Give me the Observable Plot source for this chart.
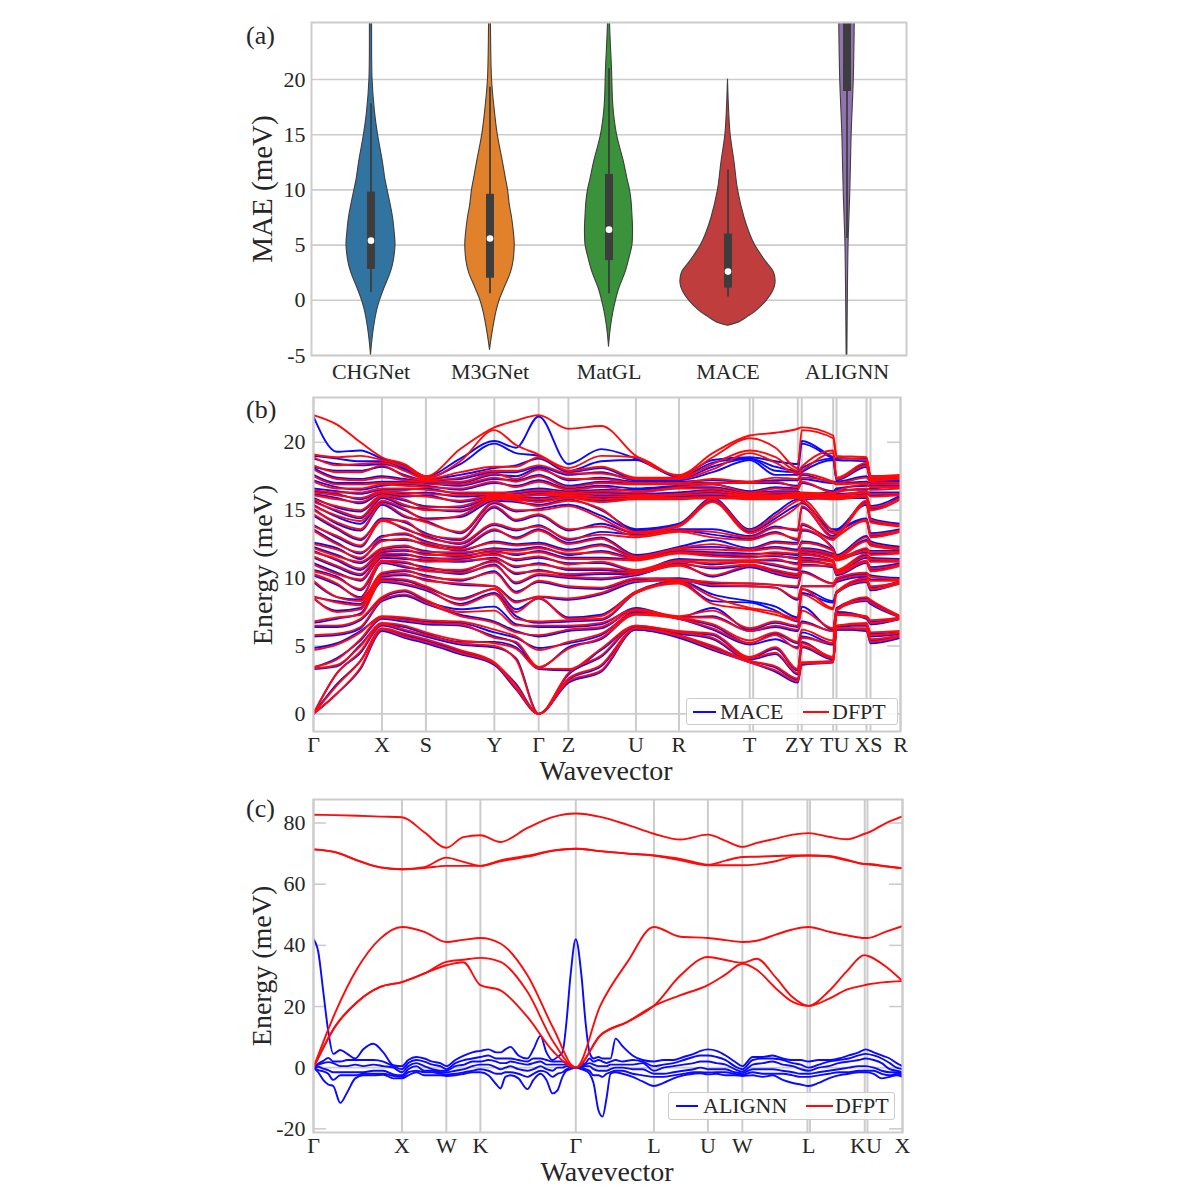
<!DOCTYPE html>
<html><head><meta charset="utf-8">
<script src="https://cdn.jsdelivr.net/npm/d3@7"></script>
<script src="https://cdn.jsdelivr.net/npm/@observablehq/plot@0.6"></script>
<style>
body{margin:0;background:#fff;}
#root{position:relative;width:1200px;height:1200px;background:#fff;font-family:"Liberation Serif","DejaVu Serif",serif;color:#262626;overflow:hidden;}
#root svg{position:absolute;left:0;}
.t{position:absolute;transform:translate(-50%,-50%);white-space:nowrap;line-height:1;}
.yl{position:absolute;transform:translate(-50%,-50%) rotate(-90deg);white-space:nowrap;line-height:1;}
.pl{position:absolute;white-space:nowrap;line-height:1;font-size:26px;}
.leg{position:absolute;border:1px solid #cccccc;border-radius:3px;background:rgba(255,255,255,0.85);box-sizing:border-box;}
.leg span{position:absolute;top:50%;transform:translateY(-50%);font-size:22px;line-height:1;}
.leg i{position:absolute;top:50%;height:2px;margin-top:-1px;}
</style></head>
<body><div id="root"></div>
<script>
// ---------------- Panel (a): violin data ----------------
const models = ["CHGNet", "M3GNet", "MatGL", "MACE", "ALIGNN"];
const modelColors = ["#3274a1", "#e1812c", "#3a923a", "#c03d3e", "#9372b2"];
const maeTicks = [-5, 0, 5, 10, 15, 20];
const chgnetVY = [-5, -4, -2.5, -1, 0, 1, 2.5, 3.5, 5, 6, 7.5, 8.5, 10, 11, 12.5, 15, 17, 20, 25, 28];
const chgnetVW = [0, 0.008, 0.025, 0.05, 0.076, 0.11, 0.166, 0.19, 0.206, 0.2, 0.185, 0.168, 0.139, 0.12, 0.1, 0.059, 0.034, 0.013, 0.009, 0.008];
const m3gnetVY = [-4.5, -3.5, -2.5, -1, 0, 1, 2.5, 3.5, 5, 6, 7.5, 8.5, 10, 11, 12.5, 15, 17.5, 20, 25, 28];
const m3gnetVW = [0, 0.013, 0.028, 0.055, 0.081, 0.118, 0.176, 0.197, 0.208, 0.202, 0.185, 0.168, 0.151, 0.134, 0.109, 0.065, 0.037, 0.017, 0.008, 0.007];
const matglVY = [-4.2, -3, -2, -1, 0, 1, 2.5, 4, 5, 6.5, 7.5, 9, 10, 11, 12.5, 15, 17.5, 21, 25, 28];
const matglVW = [0, 0.01, 0.022, 0.038, 0.059, 0.084, 0.138, 0.176, 0.197, 0.202, 0.198, 0.189, 0.176, 0.155, 0.126, 0.067, 0.037, 0.025, 0.009, 0.008];
const maceVY = [-2.3, -2, -1.5, -1, 0, 0.8, 1.5, 2.5, 3.5, 5, 6, 7.5, 10, 12.5, 15, 17.5, 20];
const maceVW = [0, 0.092, 0.168, 0.235, 0.328, 0.378, 0.399, 0.387, 0.319, 0.227, 0.185, 0.138, 0.084, 0.055, 0.022, 0.008, 0];
const alignnVY = [-5, 0, 5, 10, 15, 20, 25, 28];
const alignnVW = [0.003, 0.007, 0.013, 0.028, 0.039, 0.057, 0.065, 0.068];
const boxQ1 = [2.8, 2.0, 3.6, 1.1, 18.9];
const boxQ3 = [9.8, 9.6, 11.4, 6.0, 32];
const boxMedian = [5.4, 5.6, 6.4, 2.6, 28];
const whiskLo = [0.7, 0.6, 0.6, 0.3, 5.6];
const whiskHi = [17.8, 19.3, 21.0, 11.8, 40];

// ---------------- Panel (b): MACE vs DFPT band columns (meV) ----------------
const bTickPos = [0, 0.1166, 0.1915, 0.3081, 0.3836, 0.4343, 0.5493, 0.6226, 0.7432, 0.8284, 0.888, 0.9455, 1];
const bTickLab = ["Γ", "X", "S", "Y", "Γ", "Z", "U", "R", "T", "ZY", "TU", "XS", "R"];
const bLines = [0, 0.1166, 0.1915, 0.3081, 0.3836, 0.4343, 0.5493, 0.6226, 0.7432, 0.749, 0.825, 0.8318, 0.8853, 0.891, 0.9421, 0.9489, 1];
const bYTicks = [0, 5, 10, 15, 20];
const bPathK = [0, 0.04, 0.08, 0.1166, 0.155, 0.1915, 0.25, 0.3081, 0.345, 0.3836, 0.4343, 0.49, 0.5493, 0.6226, 0.68, 0.7432, 0.787, 0.825, 0.8318, 0.8853, 0.891, 0.9421, 0.9489, 1];
const bPathPts = ["G", "A1", "A2", "X", "B1", "S", "C1", "Y", "D1", "G", "Z", "E1", "U", "R", "F1", "T", "H1", "Z", "Y", "T", "U", "X", "S", "R"];

const dfptG  = [0,0,0,3.35,3.45,4.7,5.8,6.5,6.8,8.55,8.65,9.8,10.3,10.5,11.0,11.6,11.9,12.2,12.5,13.5,13.8,14.7,15.0,15.3,15.6,15.8,16.1,16.3,16.5,17.1,17.5,18.0,18.3,18.9,19.1,22.0];
const dfptA1 = [1.5,2.1,3.0,3.6,4.0,5.1,5.9,6.5,7.1,7.5,8.2,8.6,9.6,10.0,10.3,10.9,11.4,11.6,12.1,12.5,13.1,13.7,14.1,14.6,15.0,15.3,15.8,16.1,16.3,16.6,16.9,17.3,17.8,18.3,18.9,21.3];
const dfptA2 = [3.4,3.9,4.6,5.0,5.5,6.0,6.4,7.0,7.3,7.7,8.0,8.3,8.5,9.2,9.9,10.3,10.7,11.2,11.5,11.9,12.4,12.9,13.6,14.2,14.5,15.0,15.6,15.9,16.3,16.6,16.9,17.2,17.8,18.4,19.0,20.0];
const dfptX  = [6.2,6.3,6.6,6.7,7.1,7.2,8.4,8.6,9.8,10.0,10.2,10.4,11.2,11.3,11.6,11.8,12.0,12.2,12.7,13.0,14.2,14.3,15.5,15.7,16.0,16.1,16.3,16.4,16.6,16.9,17.0,17.4,18.3,18.5,18.7,18.9];
const dfptB1 = [5.7,5.9,6.2,6.5,6.9,7.1,8.8,9.1,9.6,9.9,10.3,10.6,10.9,11.2,11.5,11.8,12.1,12.4,12.9,13.3,13.7,14.2,14.6,15.1,15.4,15.8,16.1,16.3,16.6,16.8,17.0,17.2,17.5,17.9,18.2,18.4];
const dfptS  = [5.3,5.5,5.8,6.0,6.7,6.9,8.2,8.4,9.2,9.4,9.8,10.1,10.5,10.7,11.2,11.4,11.7,11.9,12.4,12.6,13.0,13.2,14.1,14.3,15.0,15.2,16.0,16.2,16.5,16.7,16.9,17.1,17.2,17.3,17.4,17.5];
const dfptC1 = [4.5,4.7,5.2,5.4,6.6,6.8,7.2,7.5,8.0,8.4,9.6,9.9,10.4,10.6,11.3,11.5,11.7,11.9,12.1,12.3,12.6,12.9,13.4,14.6,15.0,15.3,15.7,16.1,16.3,16.6,16.9,17.1,17.4,17.8,18.6,19.5];
const dfptY  = [3.7,3.8,5.0,5.2,5.6,6.2,6.7,7.6,8.8,9.2,9.4,10.4,10.9,11.2,11.4,11.7,11.9,12.1,12.6,13.6,14.0,15.3,15.6,15.8,15.9,16.0,16.1,16.2,16.3,17.1,17.4,17.7,17.9,18.2,20.9,21.1];
const dfptD1 = [1.9,2.1,4.0,4.8,5.3,5.7,6.0,6.5,7.0,7.5,8.2,8.9,9.7,10.4,10.9,11.4,11.8,12.0,12.4,12.9,13.6,14.3,15.0,15.7,15.8,15.9,16.0,16.1,16.3,16.7,17.1,17.3,17.9,18.2,19.8,21.6];
const dfptZ  = [2.4,2.6,3.0,3.3,4.8,5.3,6.2,6.5,6.9,7.0,8.5,9.4,10.1,10.3,10.7,11.0,11.4,11.8,12.0,12.5,12.9,13.6,15.3,15.7,15.9,16.0,16.1,16.2,16.3,16.5,16.7,17.3,17.7,17.9,18.1,21.0];
const dfptE1 = [3.2,3.6,4.3,4.8,5.6,5.9,6.4,6.7,7.0,7.2,8.9,9.3,10.0,10.4,10.7,11.2,11.4,11.9,12.4,12.9,13.2,13.8,14.4,15.1,15.6,15.8,16.0,16.2,16.4,16.7,17.0,17.3,17.7,18.2,19.0,21.2];
const dfptU  = [6.3,6.3,6.5,6.5,7.3,7.4,7.6,7.7,8.9,9.0,9.8,10.0,10.3,10.4,10.5,10.6,11.3,11.4,11.5,11.6,13.0,13.1,13.3,13.4,15.8,15.9,16.0,16.1,16.3,16.4,16.9,17.0,17.3,17.4,18.9,19.0];
const dfptR  = [5.7,5.8,6.0,6.1,7.0,7.1,7.1,7.2,9.6,9.7,9.8,9.9,10.9,11.0,11.2,11.3,11.8,11.9,12.1,12.2,13.4,13.5,13.8,13.9,15.8,15.9,16.1,16.2,16.6,16.7,16.9,17.0,17.3,17.4,17.5,17.6];
const dfptF1 = [4.8,5.0,5.6,5.9,6.3,6.6,7.1,7.6,8.1,8.6,9.5,9.7,10.2,10.8,11.1,11.3,11.6,11.8,12.1,12.5,13.0,13.4,15.6,15.8,15.9,16.0,16.2,16.4,16.6,16.9,17.0,17.3,18.0,18.4,18.9,19.2];
const dfptT  = [3.8,3.9,4.1,4.2,5.2,5.4,6.1,6.3,7.7,7.8,9.4,9.6,10.9,11.0,11.2,11.3,11.5,11.7,12.0,12.1,12.8,13.0,13.3,13.5,15.8,15.9,16.0,16.1,16.2,16.3,17.0,17.1,19.2,19.4,20.3,20.5];
const dfptH1 = [3.2,3.5,4.5,4.9,5.8,6.0,6.5,6.8,7.3,7.5,9.3,9.5,10.4,10.6,11.0,11.4,11.7,11.9,12.2,12.6,13.3,13.7,14.2,14.6,15.8,15.9,16.0,16.1,16.3,16.6,17.1,17.4,18.5,18.9,19.6,20.7];

const maceG  = [0,0,0,3.3,3.4,4.85,5.7,6.4,6.7,8.5,8.6,9.7,10.2,10.6,11.1,11.5,12.0,12.3,12.6,13.6,13.9,14.6,15.1,15.4,15.7,15.9,16.2,16.4,16.6,17.2,17.6,18.1,18.2,18.8,19.0,21.9];
const maceA1 = [1.5,2.2,3.0,3.5,4.1,5.2,5.8,6.4,7.0,7.6,8.3,8.6,9.5,10.1,10.4,10.8,11.3,11.7,12.2,12.6,13.0,13.6,14.0,14.5,14.9,15.2,15.9,16.2,16.4,16.7,17.0,17.4,17.9,18.4,18.8,19.3];
const maceA2 = [3.3,3.9,4.5,5.1,5.4,6.1,6.3,6.9,7.4,7.8,8.1,8.4,8.6,9.1,9.8,10.2,10.6,11.1,11.4,11.8,12.3,12.8,13.5,14.0,14.4,14.9,15.5,15.8,16.2,16.5,17.0,17.3,17.9,18.3,18.6,19.4];
const maceX  = [6.1,6.2,6.5,6.6,7.0,7.1,8.3,8.5,9.7,9.9,10.1,10.3,11.1,11.2,11.5,11.7,11.9,12.1,12.8,13.1,14.3,14.4,15.4,15.6,15.9,16.0,16.2,16.3,16.5,16.8,17.1,17.5,18.2,18.4,18.6,18.8];
const maceB1 = [5.6,5.8,6.1,6.4,6.8,7.0,8.7,9.0,9.5,9.8,10.2,10.5,10.8,11.1,11.4,11.7,12.0,12.3,12.8,13.2,13.6,14.1,14.5,15.0,15.3,15.7,16.0,16.2,16.5,16.9,17.1,17.3,17.6,18.0,18.1,18.3];
const maceS  = [5.2,5.4,5.7,5.9,6.6,6.8,8.1,8.3,9.1,9.3,9.9,10.2,10.6,10.8,11.3,11.5,11.8,12.0,12.5,12.7,13.1,13.3,14.2,14.4,15.1,15.3,16.1,16.3,16.6,16.8,17.0,17.1,17.2,17.3,17.4,17.5];
const maceC1 = [4.4,4.6,5.1,5.3,6.5,6.7,7.3,7.7,8.1,8.5,9.5,9.8,10.3,10.5,11.2,11.4,11.6,11.8,12.0,12.2,12.5,12.8,13.3,14.5,14.9,15.2,15.6,16.0,16.2,16.5,16.8,17.0,17.3,17.6,18.4,18.8];
const maceY  = [3.6,3.7,4.9,5.3,5.7,6.0,6.8,7.9,8.9,9.2,9.4,10.5,11.0,11.3,11.5,11.8,12.0,12.2,12.7,13.5,13.9,15.2,15.5,15.7,15.8,15.9,16.0,16.1,16.2,17.0,17.3,17.6,17.8,18.1,19.9,20.1];
const maceD1 = [1.8,2.2,4.1,4.9,5.2,5.6,6.1,6.6,7.2,7.7,8.3,9.0,9.6,10.3,10.8,11.3,11.7,12.1,12.5,13.0,13.5,14.2,14.9,15.6,15.8,15.9,16.0,16.2,16.4,16.8,17.2,17.5,17.8,18.3,19.2,19.6];
const maceZ  = [2.3,2.5,2.9,3.2,4.9,5.2,6.1,6.4,6.8,7.1,8.4,9.3,10.0,10.2,10.6,11.1,11.5,11.7,12.1,12.6,12.8,13.5,15.4,15.8,16.0,16.1,16.2,16.3,16.4,16.6,16.8,17.2,17.6,17.8,17.9,18.4];
const maceE1 = [3.1,3.5,4.2,4.7,5.5,5.8,6.3,6.6,6.9,7.3,8.8,9.2,9.9,10.3,10.6,11.1,11.5,12.0,12.5,13.0,13.4,14.0,14.6,15.0,15.7,15.9,16.1,16.3,16.5,16.8,17.1,17.4,17.8,18.1,18.6,19.5];
const maceU  = [6.2,6.2,6.4,6.4,7.4,7.5,7.7,7.8,8.9,9.0,9.7,9.9,10.2,10.3,10.4,10.5,11.4,11.5,11.6,11.7,13.2,13.3,13.5,13.6,15.9,16.0,16.1,16.2,16.5,16.6,17.0,17.1,17.2,17.3,18.7,18.8];
const maceR  = [5.6,5.7,5.9,6.0,7.0,7.0,7.1,7.1,9.7,9.8,9.9,10.0,11.0,11.1,11.3,11.4,11.9,12.0,12.2,12.3,13.5,13.6,13.9,14.0,16.0,16.1,16.2,16.3,16.7,16.8,17.0,17.1,17.2,17.3,17.4,17.5];
const maceF1 = [4.7,4.9,5.5,5.8,6.2,6.5,7.2,7.8,8.3,8.8,9.4,9.6,10.1,10.7,11.0,11.3,11.7,11.9,12.3,12.8,13.2,13.6,15.7,15.9,16.0,16.1,16.3,16.5,16.7,16.9,17.0,17.2,17.8,18.2,18.5,18.7];
const maceT  = [3.8,3.9,4.0,4.1,5.1,5.2,6.1,6.2,8.2,8.3,9.4,9.6,10.8,10.9,11.2,11.3,11.6,11.8,12.1,12.2,12.9,13.1,13.4,13.6,15.9,16.0,16.1,16.2,16.3,16.4,17.0,17.1,18.7,18.8,18.8,18.9];
const maceH1 = [3.1,3.4,4.4,4.8,5.5,5.9,6.4,6.7,7.6,7.9,9.3,9.5,10.3,10.5,10.9,11.3,11.6,11.8,12.3,12.7,13.4,13.8,14.4,14.8,15.9,16.0,16.1,16.2,16.4,16.7,17.0,17.2,17.6,17.9,18.2,18.6];

// ---------------- Panel (c): ALIGNN vs DFPT ----------------
const cTickPos = [0, 0.1502, 0.2255, 0.2833, 0.4453, 0.578, 0.6696, 0.7281, 0.8407, 0.938, 1];
const cTickLab = ["Γ", "X", "W", "K", "Γ", "L", "U", "W", "L", "KU", "X"];
const cLines = [0, 0.1502, 0.2255, 0.2833, 0.4453, 0.578, 0.6696, 0.7281, 0.8386, 0.843, 0.9359, 0.9405, 1];
const cYTicks = [-20, 0, 20, 40, 60, 80];
const cDfptK = [0, 0.0369, 0.0743, 0.1133, 0.1502, 0.1881, 0.2255, 0.2544, 0.2833, 0.3173, 0.3632, 0.4074, 0.4453, 0.4872, 0.5331, 0.5778, 0.6232, 0.6696, 0.6997, 0.7281, 0.7524, 0.7847, 0.8136, 0.8407, 0.8747, 0.9053, 0.9359, 0.9405, 0.9721, 1];
const cDfptE = [
  [0,0,0,71.4,71.4,82.7], [13.5,13.5,18,70.5,70.5,82.6], [21.5,21.5,32.4,67.8,67.8,82.4], [26.4,26.4,42.2,65.5,65.5,82.1],
  [28,28,46,64.9,64.9,81.9], [30.8,30.8,44.4,65.3,65.6,77], [33.5,34.6,41.1,66,68.7,71.9], [34.5,35.3,41.8,66,67.3,75.4],
  [27,35.9,42.4,66,66,76], [25.3,34.6,40.6,67.5,67.8,73.8], [16.6,24.8,30.2,69,69.3,78.4], [5.2,8.4,12.8,71,71,82],
  [0,0,0,71.6,71.6,83.1], [10.6,10.6,20.4,70.8,70.8,82], [15,15,34.6,70,70,79.4], [20.2,20.2,46,69.4,69.4,76.5],
  [23.7,30.2,42.8,67.8,68.3,74.6], [27,36.2,42.4,66.2,66.4,76.2], [30.5,35.2,41.7,66.2,67.7,74.2], [34,34.3,41.1,66.2,68.9,72.2],
  [32,35.6,41.5,66.5,69,73.5], [26,29.5,43.5,67.5,69.2,74.9], [21.5,23,45.2,69,69.4,76.2], [20.2,20.2,46,69.4,69.4,76.7],
  [22.5,25,44.5,69,69.2,75.5], [25.5,31.5,43.3,67.8,68,74.7], [27,36.8,42.4,66.6,66.6,76.5], [27.2,36.6,42.4,66.5,66.6,76.8],
  [28,33,44.5,65.8,65.9,80], [28.3,28.3,46.3,65.2,65.2,82.2]
];
const cAlignnK = [0,0.008,0.0165,0.025,0.0335,0.0454,0.0573,0.0709,0.0845,0.1015,0.1185,0.1355,0.1502,0.1609,0.1745,0.1881,0.2017,0.2153,0.2255,0.2408,0.2561,0.2697,0.2833,0.2969,0.3105,0.3173,0.3258,0.3343,0.3479,0.3632,0.3734,0.3853,0.3955,0.4057,0.4142,0.4227,0.4295,0.4363,0.4453,0.455,0.4618,0.4686,0.4754,0.4839,0.4907,0.4975,0.5043,0.5128,0.5247,0.5417,0.5587,0.5778,0.5943,0.6113,0.6283,0.6453,0.6572,0.6696,0.6844,0.6997,0.715,0.7281,0.7456,0.7626,0.7796,0.7966,0.8136,0.8272,0.8407,0.8577,0.8747,0.8917,0.9086,0.9256,0.9375,0.9511,0.9647,0.9783,0.9901,1];
const cAlignnE = [
  [0,0,0,0,0,42],[-1.5,-0.8,0.3,1,1.3,38],[-4,-1.2,-0.3,1.5,2.2,25],[-5.5,-2,-0.8,1.8,3.2,12],[-6,-4,-1.5,1.5,2,4.5],
  [-11.5,-2.5,-1.5,0.5,2,5.8],[-8,-2.5,-1.5,0.5,2.5,4.5],[-3.5,-2.5,-1.5,1,2.5,3],[-2.5,-2,-1.5,0.5,2.5,6],[-2.5,-2,-1,1,2.5,7.8],
  [-2.3,-2,-1,0.5,2,5],[-3.5,-2.7,-2.2,0,0.5,0.8],[-3.5,-3,-2.5,-1.5,-0.5,0.5],[-2.5,-1.5,-0.5,0.5,1.5,2.5],[-1.5,-1,0.5,1.5,2.5,3.5],
  [-2.5,-1.5,-1,0.5,2,3],[-2.5,-1.5,-1,-0.5,1,2],[-2.5,-2,-1.5,-1,0.5,1.5],[-2.7,-2.2,-1.5,-1,-0.5,0.5],[-2.5,-2,-1,0.5,1.5,2.5],
  [-2,-1.5,-0.5,1,2.5,4],[-1.5,-1,0.5,2,3,5],[-1.5,-0.5,1,2,3.5,5.5],[-2.5,-1,1,2.5,4,6],[-5.5,-2,0,2,3,5],
  [-6.8,-2,-0.5,1.5,3,5],[-3,-1.5,0,1.5,3,6],[-2.5,-1.5,0.5,2,3,6.8],[-3.5,-2,-0.5,1.5,2.5,4],[-7,-3,-1,1,2,3],
  [-4,-2,-0.5,1.5,3,6],[-2,-1,0.5,2,3,10.4],[-4,-1.5,-0.5,1,2.5,5],[-8.4,-3,-1,1,2,2.5],[-7.4,-2,0,1,2,3.5],
  [-3,-1.5,0,1,2,5],[-1,-0.5,0.5,1,1.5,15],[-0.5,0,0.3,0.5,1,30],[0,0,0,0,0,42],[-0.5,0,0.3,0.5,1,30],
  [-1,-0.5,0.5,1,1.5,15],[-2,-1,0.5,1.5,3,5],[-5,-2.5,-0.5,1,2,3],[-14,-2.5,-1,0.5,2.5,3.5],[-16,-3,-1,0.5,2,3],
  [-10,-2,-1,0.5,1.5,3],[-2,-1.5,-0.5,1,2,3],[-1.5,-1,0,1,2.5,9.5],[-2,-1,0,1,2,7],[-3,-2,-0.5,1,2.5,4],
  [-4.5,-2.5,-0.5,1.5,2,2.5],[-6,-3,-2,-1,0.5,2],[-5,-3,-2,0,1,2.5],[-3.5,-2.5,-1.5,0.5,1.5,2.5],[-2.5,-2,-1,1,2.5,3.5],
  [-2,-1.5,-0.5,1.5,3.5,4.5],[-1.8,-1.5,0,2,4,5.5],[-2.2,-1.6,-0.5,2,4,6],[-2,-1.5,-0.5,1.5,3.5,5.5],[-2.5,-1.5,-0.5,1,2.5,4],
  [-2.5,-2,-1.5,-0.5,0.5,2],[-2.7,-2.3,-1.8,-1.3,-0.5,0.5],[-2.5,-1.5,-0.5,1,2.5,3.5],[-3,-2,-0.5,1.5,3,3.5],[-2.5,-2,-0.5,2,3,4],
  [-4,-2,-1,1,2.5,3],[-5,-2.5,-1.5,0.5,1.5,2.5],[-5.5,-3,-2,-0.5,1,2.5],[-6,-3,-2,-1,0,2],[-5,-2.5,-1.5,0,1,2.5],
  [-3.5,-2,-1,0.5,2,2.5],[-2.5,-1.5,-0.5,1.5,2.5,3],[-2,-1.5,0,2,3,4],[-1.5,-1,0.5,2.5,4,5],[-1.5,-1,0.5,3,4.5,6],
  [-2,-1,0,2.5,4,5],[-3.5,-2,-1,1.5,3,4],[-3,-2.5,-1.5,-0.5,1.5,3],[-2.5,-2,-1.5,-1,0,1.5],[-3,-2.5,-2,-1.5,-0.5,0.5]
];

// ---------------- build tables ----------------
const GRID = "#cccccc", INK = "#262626", BLUE = "#0a0aff", RED = "#ff0a0a";
const root = document.getElementById("root");
const fontStyle = {fontFamily: "'Liberation Serif', 'DejaVu Serif', serif", fontSize: "22px", color: INK, background: "transparent", overflow: "visible"};

const violinSets = [[chgnetVY, chgnetVW], [m3gnetVY, m3gnetVW], [matglVY, matglVW], [maceVY, maceVW], [alignnVY, alignnVW]];
const violinMarks = violinSets.map(([ys, ws], i) =>
  Plot.areaX(ys.map((y, j) => ({y, x1: i - ws[j], x2: i + ws[j]})),
    {y: "y", x1: "x1", x2: "x2", fill: modelColors[i], stroke: "#3f3f3f", strokeWidth: 1.1, curve: "catmull-rom", clip: true}));
const idx = d3.range(models.length);

const plotA = Plot.plot({
  width: 1200, height: 400,
  marginLeft: 311, marginRight: 294, marginTop: 22, marginBottom: 45,
  x: {domain: [-0.5, 4.5], axis: null},
  y: {domain: [-5, 25.16], axis: null},
  style: fontStyle,
  marks: [
    Plot.ruleY(maeTicks, {stroke: GRID, strokeWidth: 1.6}),
    ...violinMarks,
    Plot.ruleX(idx, {x: i => i, y1: i => whiskLo[i], y2: i => whiskHi[i], stroke: "#3d3d3d", strokeWidth: 1.8, clip: true}),
    Plot.ruleX(idx, {x: i => i, y1: i => boxQ1[i], y2: i => boxQ3[i], stroke: "#3d3d3d", strokeWidth: 8, clip: true}),
    Plot.dot(idx, {x: i => i, y: i => boxMedian[i], fill: "white", stroke: "none", r: 3.3, clip: true}),
    Plot.frame({stroke: GRID, strokeWidth: 2}),
    Plot.axisY(maeTicks, {tickSize: 0, tickPadding: 6, tickFormat: d => String(d), label: null, fontSize: 22}),
    Plot.axisX(idx, {tickSize: 0, tickPadding: 8, tickFormat: i => models[i], label: null, fontSize: 22})
  ]
});
plotA.style.top = "0px";
root.appendChild(plotA);

function bandRows(pathPts, pathK, lookup) {
  const rows = [];
  pathPts.forEach((p, j) => lookup[p].forEach((e, b) => rows.push({k: pathK[j], E: e, band: b})));
  return rows;
}
const dfptB = bandRows(bPathPts, bPathK, {G: dfptG, A1: dfptA1, A2: dfptA2, X: dfptX, B1: dfptB1, S: dfptS, C1: dfptC1, Y: dfptY, D1: dfptD1, Z: dfptZ, E1: dfptE1, U: dfptU, R: dfptR, F1: dfptF1, T: dfptT, H1: dfptH1});
const maceB = bandRows(bPathPts, bPathK, {G: maceG, A1: maceA1, A2: maceA2, X: maceX, B1: maceB1, S: maceS, C1: maceC1, Y: maceY, D1: maceD1, Z: maceZ, E1: maceE1, U: maceU, R: maceR, F1: maceF1, T: maceT, H1: maceH1});

function colRows(ks, cols) {
  const rows = [];
  ks.forEach((k, j) => cols[j].forEach((e, b) => rows.push({k, E: e, band: b})));
  return rows;
}
const dfptC = colRows(cDfptK, cDfptE);
const alignnC = colRows(cAlignnK, cAlignnE);

function bandPlot({height, top, mt, mb, mr, ydom, yticks, tickPos, tickLab, lines, under, over, underColor}) {
  const p = Plot.plot({
    width: 1200, height,
    marginLeft: 313, marginRight: mr, marginTop: mt, marginBottom: mb,
    x: {domain: [0, 1], axis: null},
    y: {domain: ydom, axis: null},
    style: fontStyle,
    marks: [
      Plot.ruleX(lines, {stroke: GRID, strokeWidth: 2}),
      Plot.ruleY([0], {stroke: GRID, strokeWidth: 1.6}),
      Plot.ruleY(yticks, {x1: 0, x2: 0.022, stroke: GRID, strokeWidth: 1.6}),
      Plot.ruleY(yticks, {x1: 0.978, x2: 1, stroke: GRID, strokeWidth: 1.6}),
      Plot.line(under, {x: "k", y: "E", z: "band", stroke: underColor, strokeWidth: 1.9, curve: "monotone-x", clip: true}),
      Plot.line(over, {x: "k", y: "E", z: "band", stroke: RED, strokeWidth: 1.9, curve: "monotone-x", clip: true}),
      Plot.frame({stroke: GRID, strokeWidth: 2}),
      Plot.axisY(yticks, {tickSize: 0, tickPadding: 8, tickFormat: d => String(d), label: null, fontSize: 22}),
      Plot.axisX(tickPos, {tickSize: 0, tickPadding: 5, tickFormat: d => tickLab[tickPos.indexOf(d)], label: null, fontSize: 22})
    ]
  });
  p.style.top = top + "px";
  root.appendChild(p);
}
bandPlot({height: 410, top: 390, mt: 7, mb: 69, mr: 300, ydom: [-1.3, 23.3], yticks: bYTicks, tickPos: bTickPos, tickLab: bTickLab, lines: bLines, under: maceB, over: dfptB, underColor: BLUE});
bandPlot({height: 410, top: 790, mt: 9, mb: 68, mr: 298, ydom: [-21.2, 87.7], yticks: cYTicks, tickPos: cTickPos, tickLab: cTickLab, lines: cLines, under: alignnC, over: dfptC, underColor: BLUE});

// ---------------- titles, panel labels, legends ----------------
function add(html) { root.insertAdjacentHTML("beforeend", html); }
add(`<div class="yl" style="left:262px;top:189px;font-size:29px">MAE (meV)</div>`);
add(`<div class="yl" style="left:263px;top:565px;font-size:28px">Energy (meV)</div>`);
add(`<div class="yl" style="left:262px;top:966px;font-size:28px">Energy (meV)</div>`);
add(`<div class="t" style="left:606px;top:771px;font-size:28px">Wavevector</div>`);
add(`<div class="t" style="left:607px;top:1172px;font-size:28px">Wavevector</div>`);
add(`<div class="pl" style="left:246px;top:23px">(a)</div>`);
add(`<div class="pl" style="left:246px;top:397px">(b)</div>`);
add(`<div class="pl" style="left:246px;top:796px">(c)</div>`);
add(`<div class="leg" style="left:686px;top:698px;width:212px;height:27px">
  <i style="left:6px;width:23px;background:${BLUE}"></i><span style="left:33px">MACE</span>
  <i style="left:116px;width:26px;background:${RED}"></i><span style="left:145px">DFPT</span></div>`);
add(`<div class="leg" style="left:668px;top:1092px;width:227px;height:28px">
  <i style="left:7px;width:22px;background:${BLUE}"></i><span style="left:34px">ALIGNN</span>
  <i style="left:137px;width:27px;background:${RED}"></i><span style="left:166px">DFPT</span></div>`);
</script>
</body></html>
